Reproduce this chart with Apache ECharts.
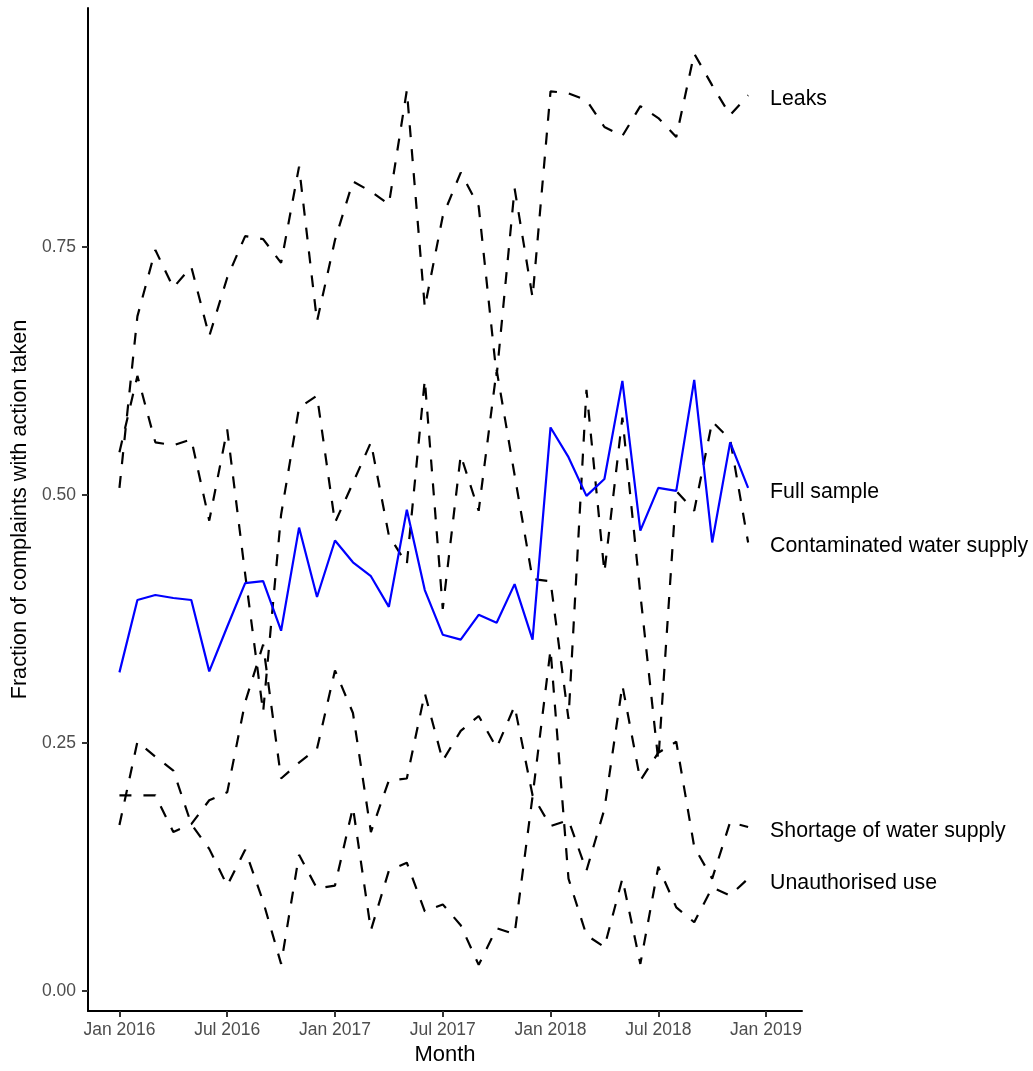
<!DOCTYPE html>
<html>
<head>
<meta charset="utf-8">
<script src="https://cdn.jsdelivr.net/npm/echarts@6/dist/echarts.min.js"></script>
<style>
  html, body { margin: 0; padding: 0; background: #fff; }
  #chart { width: 1033px; height: 1071px; }
</style>
</head>
<body>
<div id="chart"></div>
<script>
// monthly points, Jan 2016 .. Dec 2018
const months = [
  'Jan 2016','Feb 2016','Mar 2016','Apr 2016','May 2016','Jun 2016','Jul 2016','Aug 2016','Sep 2016','Oct 2016','Nov 2016','Dec 2016',
  'Jan 2017','Feb 2017','Mar 2017','Apr 2017','May 2017','Jun 2017','Jul 2017','Aug 2017','Sep 2017','Oct 2017','Nov 2017','Dec 2017',
  'Jan 2018','Feb 2018','Mar 2018','Apr 2018','May 2018','Jun 2018','Jul 2018','Aug 2018','Sep 2018','Oct 2018','Nov 2018','Dec 2018'
];

const leaks = [0.507,0.680,0.747,0.709,0.730,0.660,0.719,0.761,0.758,0.734,0.831,0.675,
  0.757,0.816,0.806,0.793,0.908,0.689,0.781,0.825,0.791,0.620,0.809,0.699,
  0.907,0.905,0.898,0.871,0.862,0.892,0.880,0.861,0.945,0.913,0.883,0.903];

const fullSample = [0.321,0.394,0.399,0.396,0.394,0.322,0.367,0.411,0.413,0.363,0.467,0.397,
  0.454,0.432,0.418,0.387,0.485,0.404,0.359,0.354,0.379,0.371,0.410,0.354,
  0.568,0.538,0.499,0.516,0.615,0.464,0.507,0.504,0.616,0.452,0.553,0.507];

const contaminated = [0.543,0.620,0.553,0.550,0.556,0.474,0.566,0.420,0.281,0.480,0.588,0.600,
  0.472,0.512,0.553,0.459,0.430,0.616,0.385,0.540,0.484,0.626,0.520,0.415,
  0.413,0.274,0.606,0.422,0.578,0.400,0.232,0.504,0.484,0.574,0.556,0.452];

const shortage = [0.197,0.197,0.197,0.160,0.168,0.192,0.200,0.291,0.349,0.214,0.230,0.244,
  0.323,0.280,0.160,0.212,0.214,0.300,0.232,0.262,0.277,0.245,0.287,0.197,
  0.166,0.172,0.121,0.183,0.308,0.212,0.240,0.251,0.145,0.113,0.170,0.165];

const unauthorised = [0.167,0.251,0.236,0.222,0.168,0.143,0.106,0.142,0.090,0.027,0.137,0.103,
  0.106,0.185,0.061,0.121,0.129,0.080,0.087,0.066,0.026,0.063,0.057,0.196,
  0.344,0.113,0.056,0.044,0.113,0.027,0.125,0.084,0.069,0.104,0.096,0.113];

const xTickPos = [0, 6, 12, 18, 24, 30, 36];
const xTickLabels = ['Jan 2016','Jul 2016','Jan 2017','Jul 2017','Jan 2018','Jul 2018','Jan 2019'];
const yTicks = [0, 0.25, 0.5, 0.75];

const FONT = '"Liberation Sans", Arial, Helvetica, sans-serif';

const toPoints = arr => arr.map((v, i) => [i, v]);

const makeSeries = (name, values, color, dashed) => ({
  name: name,
  type: 'line',
  data: toPoints(values),
  showSymbol: false,
  symbol: 'none',
  silent: true,
  lineStyle: {
    color: color,
    width: 2.2,
    type: dashed ? [12, 12] : 'solid',
    cap: 'butt'
  },
  endLabel: {
    show: true,
    formatter: '{a}',
    distance: 22,
    offset: [0, 4],
    color: '#000',
    fontSize: 21.3,
    fontFamily: FONT
  }
});

const series = [
  makeSeries('Leaks', leaks, '#000', true),
  makeSeries('Contaminated water supply', contaminated, '#000', true),
  makeSeries('Shortage of water supply', shortage, '#000', true),
  makeSeries('Unauthorised use', unauthorised, '#000', true),
  makeSeries('Full sample', fullSample, '#0000ff', false)
];

const option = {
  animation: false,
  grid: {
    left: 88,
    right: 231,
    top: 8,
    bottom: 59
  },
  xAxis: {
    type: 'value',
    min: -1.75,
    max: 38,
    name: 'Month',
    nameLocation: 'middle',
    nameGap: 33,
    nameTextStyle: { color: '#000', fontSize: 22, fontFamily: FONT },
    splitLine: { show: false },
    axisLine: { onZero: false, lineStyle: { color: '#000', width: 2 } },
    axisTick: {
      customValues: xTickPos,
      length: 6,
      lineStyle: { color: '#333', width: 2 }
    },
    axisLabel: {
      customValues: xTickPos,
      formatter: v => xTickLabels[xTickPos.indexOf(v)],
      color: '#4d4d4d',
      fontSize: 17.5,
      fontFamily: FONT,
      margin: 10
    }
  },
  yAxis: {
    type: 'value',
    min: -0.0205,
    max: 0.991,
    name: 'Fraction of complaints with action taken',
    nameLocation: 'middle',
    nameGap: 55,
    nameTextStyle: { color: '#000', fontSize: 21.7, fontFamily: FONT },
    splitLine: { show: false },
    axisLine: { show: true, onZero: false, lineStyle: { color: '#000', width: 2 } },
    axisTick: {
      show: true,
      customValues: yTicks,
      length: 6,
      lineStyle: { color: '#333', width: 2 }
    },
    axisLabel: {
      customValues: yTicks,
      formatter: v => v.toFixed(2),
      color: '#4d4d4d',
      fontSize: 17.5,
      fontFamily: FONT,
      margin: 12
    }
  },
  series: series
};

const myChart = echarts.init(document.getElementById('chart'), null, { renderer: 'canvas' });
myChart.setOption(option);
</script>
</body>
</html>
